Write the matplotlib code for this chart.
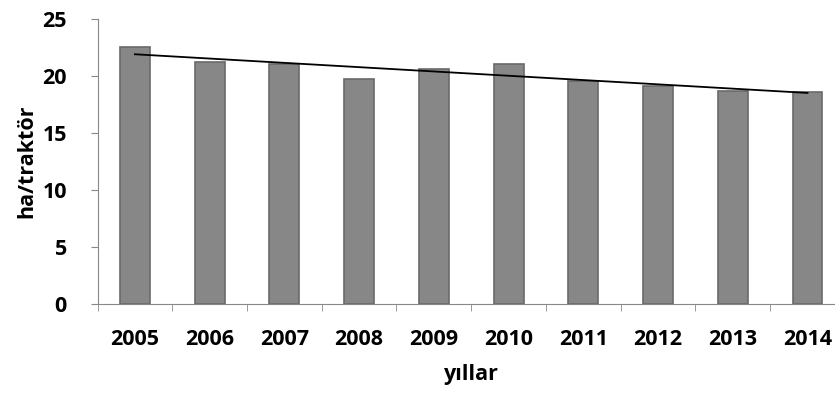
import numpy as np
import matplotlib
matplotlib.use('Agg')
from matplotlib import pyplot as plt

# ha/traktör per year
years = ['2005', '2006', '2007', '2008', '2009', '2010', '2011', '2012', '2013', '2014']
values = [22.5, 21.2, 21.05, 19.7, 20.6, 21.05, 19.6, 19.1, 18.7, 18.6]
yticks = [0, 5, 10, 15, 20, 25]

plt.rcParams['font.family'] = ['Open Sans', 'DejaVu Sans']
plt.rcParams['font.weight'] = 'bold'

fig = plt.figure(figsize=(8.35, 3.94), dpi=100)
ax = fig.add_axes([0.1168, 0.2284, 0.895, 0.7234])

x = np.arange(len(years))
ax.bar(x, values, width=0.4, color='#878787', edgecolor='#696969', linewidth=1.2, zorder=2)

# linear trend line like the spreadsheet trendline
k, b = np.polyfit(x, values, 1)
ax.plot(x, k * x + b, color='black', linewidth=1.3, zorder=3)

ax.set_xlim(-0.5, len(years) - 0.5)
ax.set_ylim(0, 25)
ax.set_yticks(yticks)
ax.set_xticks(x)
ax.set_xticklabels(years)
ax.set_xticks(np.arange(len(years) + 1) - 0.5, minor=True)
ax.tick_params(axis='x', which='major', length=0, pad=18, labelsize=15.5)
ax.tick_params(axis='x', which='minor', length=5, color='#888888', direction='out')
ax.tick_params(axis='y', length=5, color='#888888', labelsize=15.5, pad=17)

for s in ['top', 'right']:
    ax.spines[s].set_visible(False)
for s in ['left', 'bottom']:
    ax.spines[s].set_color('#888888')

ax.set_xlabel('yıllar', fontsize=15.5, fontweight='bold', labelpad=10)
ax.set_ylabel('ha/traktör', fontsize=15.5, fontweight='bold', labelpad=4)

fig.savefig('out.png', dpi=100)
